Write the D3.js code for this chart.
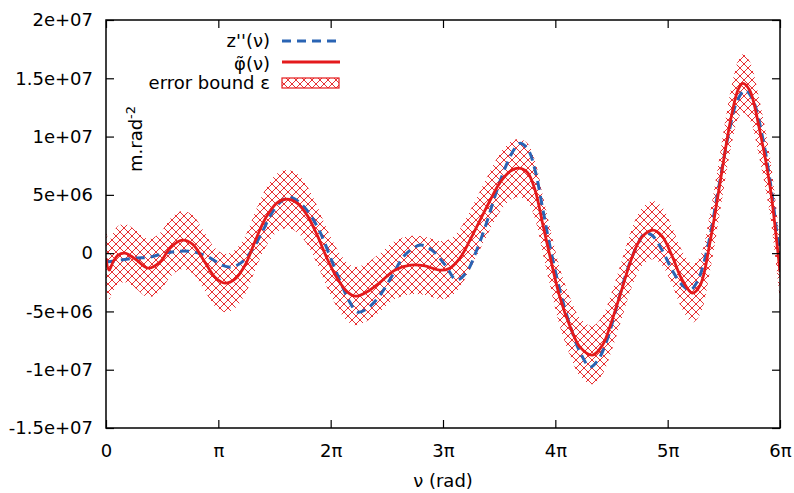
<!DOCTYPE html>
<html><head><meta charset="utf-8">
<script src="https://cdn.jsdelivr.net/npm/d3@7"></script>
<style>body{margin:0;background:#fff}svg{display:block}text{font-family:"DejaVu Sans",sans-serif;}</style>
</head><body><svg id="c" width="794" height="493"></svg>
<script>
// x in units of pi, y in units of 1e6
const phiX = [0,0.027,0.062,0.107,0.17,0.26,0.374,0.48,0.57,0.677,0.77,0.88,0.97,1.06,1.15,1.24,1.33,1.42,1.52,1.61,1.70,1.79,1.88,1.97,2.06,2.15,2.22,2.32,2.44,2.57,2.71,2.84,2.97,3.06,3.15,3.24,3.33,3.42,3.51,3.60,3.67,3.75,3.82,3.89,3.95,4.04,4.13,4.22,4.33,4.42,4.50,4.59,4.68,4.77,4.87,4.95,5.04,5.13,5.22,5.29,5.38,5.47,5.56,5.63,5.67,5.73,5.82,5.91,5.96,6.0];
const phiY = [-0.43,-1.46,-0.77,-0.17,0.0,-0.5,-1.29,-0.77,0.43,1.11,0.77,-0.77,-2.06,-2.57,-2.2,-1.0,1.1,3.0,4.3,4.63,4.3,3.26,1.54,-0.5,-2.2,-3.34,-3.69,-3.34,-2.5,-1.46,-1.03,-1.1,-1.46,-1.29,-0.43,1.11,2.83,4.54,6.09,7.03,7.29,6.94,5.4,2.4,-0.17,-3.77,-6.26,-8.06,-8.74,-7.89,-5.9,-3.17,-0.43,1.37,1.97,1.46,-0.26,-2.31,-3.43,-2.74,1.11,6.26,11.4,14.1,14.57,13.97,10.5,5.83,1.97,-1.63];
const zX = [0,0.125,0.26,0.39,0.525,0.66,0.79,0.93,1.03,1.12,1.21,1.30,1.39,1.48,1.57,1.64,1.73,1.82,1.91,1.99,2.08,2.17,2.24,2.33,2.44,2.55,2.66,2.80,2.90,3.02,3.12,3.21,3.30,3.39,3.48,3.57,3.64,3.69,3.76,3.82,3.89,3.95,4.04,4.13,4.22,4.31,4.38,4.46,4.55,4.64,4.73,4.80,4.86,4.95,5.04,5.13,5.20,5.27,5.36,5.45,5.54,5.62,5.69,5.76,5.85,5.93,5.98,6.0];
const zY = [-0.77,-0.6,-0.43,-0.34,0,0.17,0.09,-0.43,-1.03,-1.2,-0.77,0.26,1.8,3.5,4.54,4.8,4.29,3.26,1.71,-0.17,-2.31,-4.2,-5.06,-4.71,-3.6,-1.89,-0.17,0.69,0.26,-1.03,-2.31,-1.63,0.26,2.66,5.4,7.71,9.0,9.43,8.83,7.11,3.69,0.69,-3.17,-6.17,-8.49,-9.77,-9.17,-7.46,-4.46,-1.46,0.69,1.71,1.54,0.26,-1.46,-2.74,-3.17,-2.31,0.69,5.4,10.1,13.1,13.97,13.1,9.69,4.97,1.11,-0.17];
const errorBound = 2.5; // 1e6
const xTickVals = [0,1,2,3,4,5,6];
const xTickLabels = ["0","π","2π","3π","4π","5π","6π"];
const yTickVals = [20,15,10,5,0,-5,-10,-15];
const yTickLabels = ["2e+07","1.5e+07","1e+07","5e+06","0","-5e+06","-1e+07","-1.5e+07"];

const RED = "#e41a1c", BLUE = "#2a64b4";
const svg = d3.select("#c");
const L = 106, R = 780, T = 20, B = 428;
const x = d3.scaleLinear().domain([0,6]).range([L,R]);
const y = d3.scaleLinear().domain([-15,20]).range([B,T]);

const defs = svg.append("defs");
const P = 8;
const pat = defs.append("pattern").attr("id","hatch").attr("patternUnits","userSpaceOnUse")
  .attr("width",P).attr("height",P);
pat.append("path").attr("d",`M0,0L${P},${P}M${P},0L0,${P}M-1,${P-1}L1,${P+1}M${P-1},-1L${P+1},1`).attr("stroke",RED).attr("stroke-width",0.9).attr("fill","none");
defs.append("clipPath").attr("id","clip").append("rect").attr("x",L).attr("y",T).attr("width",R-L).attr("height",B-T);

const g = svg.append("g").attr("clip-path","url(#clip)");
const phi = phiX.map((v,i)=>[v,phiY[i]]);
const z = zX.map((v,i)=>[v,zY[i]]);

g.append("path").datum(phi)
  .attr("d", d3.area().x(d=>x(d[0])).y0(d=>y(d[1]-errorBound)).y1(d=>y(d[1]+errorBound)).curve(d3.curveCatmullRom))
  .attr("fill","url(#hatch)");
g.append("path").datum(z)
  .attr("d", d3.line().x(d=>x(d[0])).y(d=>y(d[1])).curve(d3.curveCatmullRom))
  .attr("fill","none").attr("stroke",BLUE).attr("stroke-width",3).attr("stroke-dasharray","9,6");
g.append("path").datum(phi)
  .attr("d", d3.line().x(d=>x(d[0])).y(d=>y(d[1])).curve(d3.curveCatmullRom))
  .attr("fill","none").attr("stroke",RED).attr("stroke-width",2.8);

// axes with inward ticks, mirrored
const fs = 18;
const axB = svg.append("g").attr("transform",`translate(0,${B})`)
  .call(d3.axisBottom(x).tickValues(xTickVals).tickFormat((d,i)=>xTickLabels[i]).tickSizeInner(-8).tickSizeOuter(0).tickPadding(16));
const axT = svg.append("g").attr("transform",`translate(0,${T})`)
  .call(d3.axisTop(x).tickValues(xTickVals).tickFormat("").tickSizeInner(-8).tickSizeOuter(0));
const axL = svg.append("g").attr("transform",`translate(${L},0)`)
  .call(d3.axisLeft(y).tickValues(yTickVals).tickFormat((d,i)=>yTickLabels[i]).tickSizeInner(-8).tickSizeOuter(0).tickPadding(13));
const axR = svg.append("g").attr("transform",`translate(${R},0)`)
  .call(d3.axisRight(y).tickValues(yTickVals).tickFormat("").tickSizeInner(-8).tickSizeOuter(0));
[axB,axT,axL,axR].forEach(a=>{
  a.select(".domain").remove();
  a.selectAll(".tick line").attr("stroke","#000").attr("stroke-width",1.2);
  a.selectAll("text").attr("font-family","DejaVu Sans").attr("font-size",fs).attr("fill","#000");
});
svg.append("rect").attr("x",L).attr("y",T).attr("width",R-L).attr("height",B-T)
  .attr("fill","none").attr("stroke","#000").attr("stroke-width",1.5);

// axis labels
svg.append("text").attr("x",(L+R)/2).attr("y",487).attr("text-anchor","middle").attr("font-size",fs).text("ν (rad)");
const yl = svg.append("text").attr("transform","translate(142,172) rotate(-90)").attr("font-size",fs);
yl.append("tspan").text("m.rad");
yl.append("tspan").attr("dy",-7).attr("font-size",13).text("-2");

// legend
const lg = svg.append("g");
lg.append("text").attr("x",270).attr("y",47).attr("text-anchor","end").attr("font-size",fs).text("z''(ν)");
lg.append("line").attr("x1",282).attr("x2",338).attr("y1",41).attr("y2",41).attr("stroke",BLUE).attr("stroke-width",3).attr("stroke-dasharray","9,6");
lg.append("text").attr("x",270).attr("y",70).attr("text-anchor","end").attr("font-size",fs).text("φ\u0303(ν)");
lg.append("line").attr("x1",282).attr("x2",340).attr("y1",62).attr("y2",62).attr("stroke",RED).attr("stroke-width",2.8);
lg.append("text").attr("x",270).attr("y",89).attr("text-anchor","end").attr("font-size",fs).text("error bound ε");
lg.append("rect").attr("x",282).attr("y",78).attr("width",57).attr("height",10).attr("fill","url(#hatch)").attr("stroke",RED).attr("stroke-width",1.2);
</script></body></html>
